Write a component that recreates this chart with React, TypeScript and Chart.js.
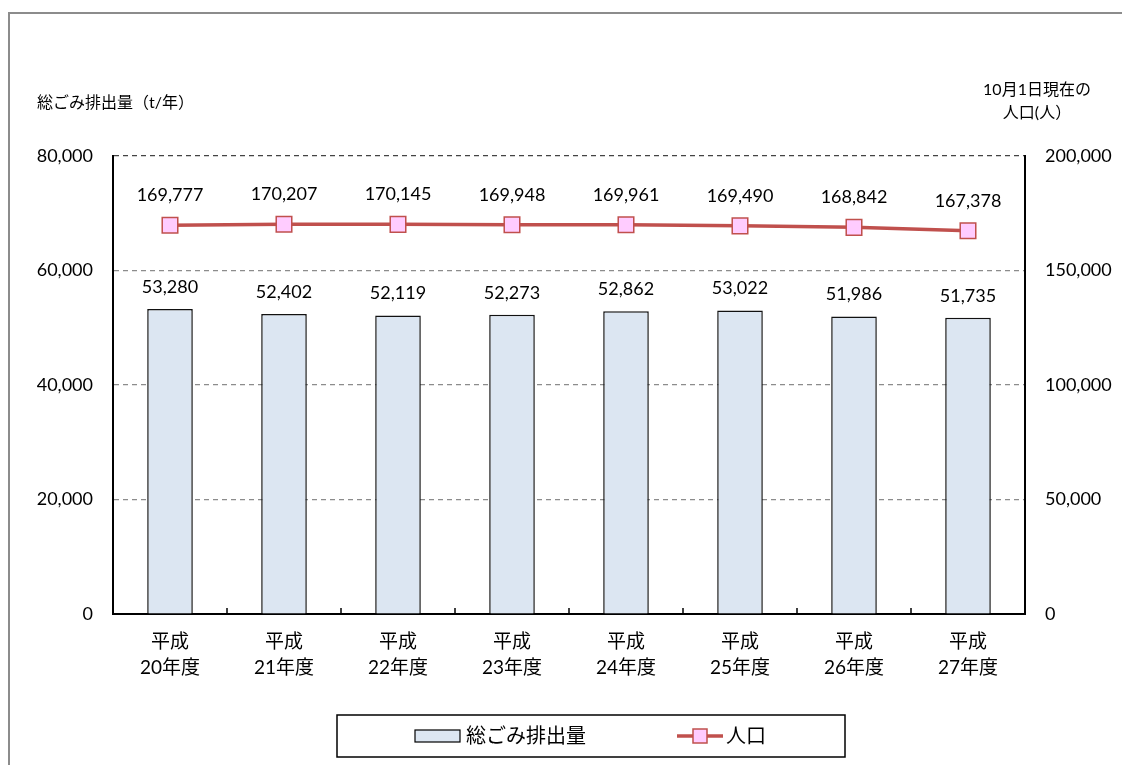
import React, { useEffect, useRef } from "react";
import { Chart, registerables } from "chart.js";

Chart.register(...registerables);

const categories: string[][] = [
  ["平成", "20年度"],
  ["平成", "21年度"],
  ["平成", "22年度"],
  ["平成", "23年度"],
  ["平成", "24年度"],
  ["平成", "25年度"],
  ["平成", "26年度"],
  ["平成", "27年度"],
];
const wasteValues = [53280, 52402, 52119, 52273, 52862, 53022, 51986, 51735];
const populationValues = [169777, 170207, 170145, 169948, 169961, 169490, 168842, 167378];
const leftTicks = { min: 0, max: 80000, step: 20000 };
const rightTicks = { min: 0, max: 200000, step: 50000 };
const wasteLabel = "総ごみ排出量";
const popLabel = "人口";
const leftTitle = "総ごみ排出量（t/年）";
const rightTitle = ["10月1日現在の", "人口(人）"];

const FONT = "Lato, 'Noto Sans CJK JP', sans-serif";
const BAR_FILL = "#dce6f2";
const LINE_COLOR = "#c0504d";
const POINT_FILL = "#ffccff";

const fmt = (v: number) => v.toLocaleString("en-US");

const overlayPlugin = {
  id: "overlay",
  afterDatasetsDraw(chart: any) {
    const ctx = chart.ctx;
    const area = chart.chartArea;
    ctx.save();
    const x = chart.scales.x;
    ctx.strokeStyle = "#000";
    ctx.lineWidth = 1.5;
    const n = chart.data.labels.length;
    for (let i = 1; i < n; i++) {
      const px = (x.getPixelForValue(i - 1) + x.getPixelForValue(i)) / 2;
      ctx.beginPath();
      ctx.moveTo(px, area.bottom);
      ctx.lineTo(px, area.bottom - 6);
      ctx.stroke();
    }
    ctx.fillStyle = "#000";
    ctx.font = `18px ${FONT}`;
    ctx.textAlign = "center";
    ctx.textBaseline = "middle";
    const barMeta = chart.getDatasetMeta(0);
    barMeta.data.forEach((el: any, i: number) => {
      ctx.fillText(fmt(chart.data.datasets[0].data[i]), el.x, el.y - 22);
    });
    const lineMeta = chart.getDatasetMeta(1);
    lineMeta.data.forEach((el: any, i: number) => {
      ctx.fillText(fmt(chart.data.datasets[1].data[i]), el.x, el.y - 30);
    });
    ctx.restore();
  },
  afterDraw(chart: any) {
    const ctx = chart.ctx;
    ctx.save();
    ctx.fillStyle = "#000";
    ctx.textBaseline = "middle";
    ctx.font = `16px ${FONT}`;
    ctx.textAlign = "left";
    ctx.fillText(leftTitle, 29, 95);
    ctx.textAlign = "center";
    ctx.fillText(rightTitle[0], 1029, 82);
    ctx.fillText(rightTitle[1], 1029, 105);
    ctx.strokeStyle = "#000";
    ctx.lineWidth = 1.5;
    ctx.strokeRect(329, 707, 508, 42);
    ctx.fillStyle = BAR_FILL;
    ctx.fillRect(407, 722, 45, 12);
    ctx.strokeStyle = "#000";
    ctx.lineWidth = 1.2;
    ctx.strokeRect(407, 722, 45, 12);
    ctx.fillStyle = "#000";
    ctx.font = `20px ${FONT}`;
    ctx.textAlign = "left";
    ctx.fillText(chart.data.datasets[0].label, 458, 729);
    ctx.strokeStyle = LINE_COLOR;
    ctx.lineWidth = 3.5;
    ctx.beginPath();
    ctx.moveTo(669, 728);
    ctx.lineTo(715, 728);
    ctx.stroke();
    ctx.fillStyle = POINT_FILL;
    ctx.fillRect(685, 721, 14, 14);
    ctx.lineWidth = 1.5;
    ctx.strokeRect(685, 721, 14, 14);
    ctx.fillStyle = "#000";
    ctx.fillText(chart.data.datasets[1].label, 718, 729);
    ctx.restore();
  },
};

export default function App() {
  const ref = useRef<HTMLCanvasElement | null>(null);
  useEffect(() => {
    if (!ref.current) return;
    const chart = new Chart(ref.current, {
      type: "bar",
      data: {
        labels: categories,
        datasets: [
          {
            type: "bar",
            label: wasteLabel,
            data: wasteValues,
            backgroundColor: BAR_FILL,
            borderColor: "#111",
            borderWidth: 1.5,
            barPercentage: 0.4,
            categoryPercentage: 1,
            yAxisID: "y",
            order: 2,
          },
          {
            type: "line",
            label: popLabel,
            data: populationValues,
            borderColor: LINE_COLOR,
            borderWidth: 3.5,
            pointStyle: "rect",
            pointRadius: 11,
            pointBackgroundColor: POINT_FILL,
            pointBorderColor: LINE_COLOR,
            pointBorderWidth: 1.5,
            yAxisID: "y1",
            order: 1,
          },
        ] as any,
      },
      options: {
        animation: false,
        responsive: false,
        maintainAspectRatio: false,
        layout: { padding: { top: 148, left: 0, right: 0, bottom: 51 } },
        plugins: { legend: { display: false }, tooltip: { enabled: false } },
        scales: {
          x: {
            grid: { display: false, drawTicks: false },
            border: { display: true, color: "#000", width: 2 },
            ticks: {
              color: "#000",
              font: { family: FONT, size: 19, lineHeight: 1.35 },
              padding: 15,
              maxRotation: 0,
              autoSkip: false,
            },
            afterFit: (s: any) => {
              s.height = 100;
            },
          },
          y: {
            position: "left",
            min: leftTicks.min,
            max: leftTicks.max,
            ticks: {
              stepSize: leftTicks.step,
              color: "#000",
              font: { family: FONT, size: 18 },
              padding: 20,
              callback: (v: any) => fmt(Number(v)),
            },
            grid: {
              drawTicks: false,
              color: (c: any) => (c.tick && c.tick.value === leftTicks.max ? "#444" : "#8c8c8c"),
              lineWidth: 1.2,
            },
            border: { display: true, color: "#000", width: 2, dash: [5, 4] } as any,
            afterFit: (s: any) => {
              s.width = 105;
            },
          },
          y1: {
            position: "right",
            min: rightTicks.min,
            max: rightTicks.max,
            ticks: {
              stepSize: rightTicks.step,
              color: "#000",
              font: { family: FONT, size: 18 },
              padding: 20,
              callback: (v: any) => fmt(Number(v)),
            },
            grid: { drawOnChartArea: false, drawTicks: false },
            border: { display: true, color: "#000", width: 2 },
            afterFit: (s: any) => {
              s.width = 105;
            },
          },
        },
      } as any,
      plugins: [overlayPlugin],
    });
    return () => chart.destroy();
  }, []);

  return (
    <div style={{ position: "relative", width: 1122, height: 757, overflow: "hidden" }}>
      <div
        style={{
          position: "absolute",
          left: 0,
          top: 4,
          width: 1122,
          height: 753,
          borderLeft: "2px solid #8c8c8c",
          borderTop: "2px solid #8c8c8c",
          boxSizing: "border-box",
        }}
      />
      <canvas
        ref={ref}
        width={1122}
        height={757}
        style={{ position: "absolute", left: 0, top: 0, width: 1122, height: 757 }}
      />
    </div>
  );
}
